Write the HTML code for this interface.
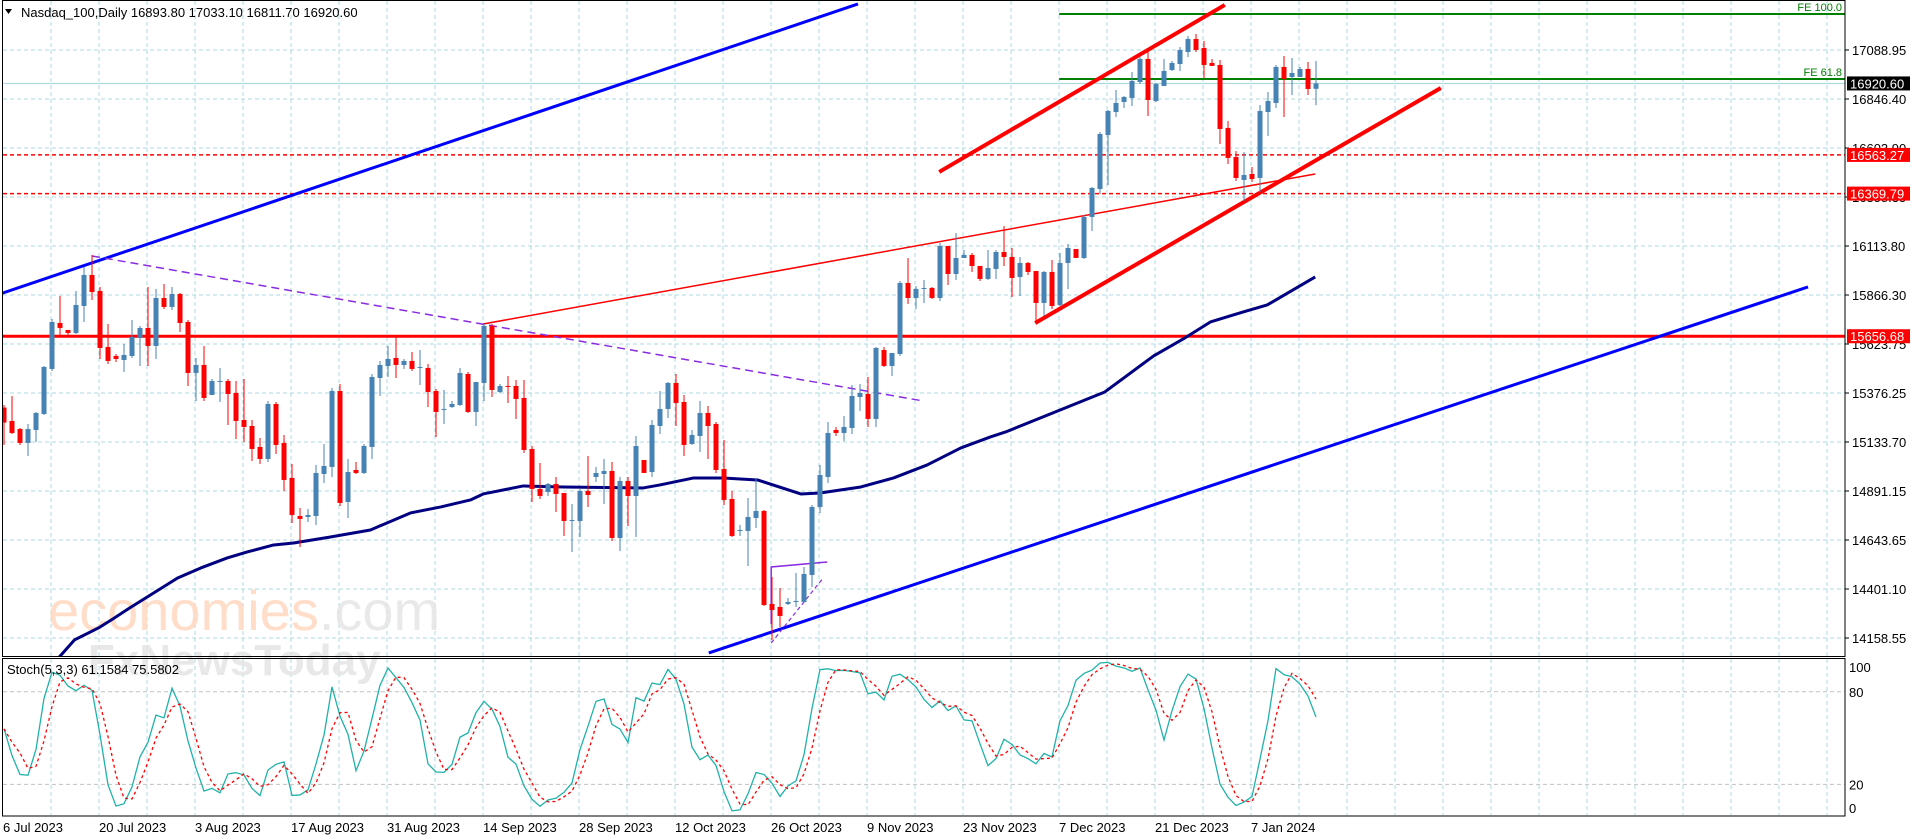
<!DOCTYPE html>
<html><head><meta charset="utf-8"><title>Nasdaq_100 Daily</title>
<style>
html,body{margin:0;padding:0;background:#fff;}
svg{display:block;font-family:"Liberation Sans","DejaVu Sans",sans-serif;}
</style></head>
<body>
<svg id="chart" width="1916" height="840" viewBox="0 0 1916 840" xmlns="http://www.w3.org/2000/svg">
<defs>
<clipPath id="mainClip"><rect x="3" y="1" width="1842" height="655"/></clipPath>
<clipPath id="stochClip"><rect x="3" y="659" width="1842" height="156"/></clipPath>
</defs>
<rect x="0" y="0" width="1916" height="840" fill="#fff"/>
<g id="grid"></g>
<g opacity="0.85">
<text x="48" y="630" font-size="56" fill="#ffd8c0">economies<tspan fill="#e6e6e6">.com</tspan></text>
<text x="88" y="675" font-size="44" fill="#e4e4e4" font-weight="bold">FxNewsToday</text>
</g>
<g id="main" clip-path="url(#mainClip)"></g>
<g id="stoch" clip-path="url(#stochClip)"></g>
<rect x="2.5" y="0.5" width="1842.5" height="656" fill="none" stroke="#000"/>
<rect x="2.5" y="658.5" width="1842.5" height="157.5" fill="none" stroke="#000"/>
<g id="axes"></g>
<polygon points="5,9 12,9 8.5,14" fill="#000"/>
<text x="21" y="17" font-size="13" fill="#000">Nasdaq_100,Daily  16893.80 17033.10 16811.70 16920.60</text>
<text x="7" y="674" font-size="13" fill="#000">Stoch(5,3,3) 61.1584 75.5802</text>
</svg>
<script>
const opens=[15300,15233,15193,15123,15188,15268,15493,15723,15688,15673,
15808,15963,15883,15603,15558,15538,15558,15648,15698,15608,
15848,15803,15868,15728,15473,15513,15363,15428,15433,15373,
15238,15208,15103,15043,15318,15123,14948,14758,14753,14758,
14968,15003,15383,14828,14988,14973,15103,15448,15508,15548,
15513,15533,15498,15498,15383,15288,15303,15313,15468,15278,
15423,15708,15378,15408,15408,15348,15093,14893,14878,14918,
14873,14733,14733,14883,14953,14968,14983,14648,14933,14858,
15038,14978,15208,15293,15423,15328,15118,15158,15273,15218,
14993,14843,14683,14683,14748,14783,14318,14303,14318,14328,
14328,14463,14803,14953,15188,15173,15198,15353,15368,15243,
15588,15508,15568,15923,15848,15893,15898,15848,16108,15968,
16048,16063,16008,15943,15993,16078,16053,15953,16023,15983,
15823,15978,15813,16023,16093,16048,16253,16393,16663,16778,
16828,16848,16928,17043,16833,16908,16988,17018,17078,17143,
17098,17023,17013,16698,16553,16438,16468,16448,16778,16823,
17003,16953,16953,16993,16893.8];
const highs=[15313,15358,15198,15218,15278,15508,15743,15858,15688,15883,
16003,16063,15903,15718,15568,15618,15738,15708,15903,15893,
15918,15903,15873,15738,15548,15608,15443,15498,15443,15433,
15443,15238,15148,15333,15328,15163,15018,14798,14793,15013,
15118,15398,15418,15043,15028,15118,15468,15533,15608,15658,
15543,15578,15588,15518,15393,15388,15333,15498,15478,15428,
15718,15718,15418,15458,15438,15438,15108,15023,14923,14953,
14873,14818,14893,15058,15003,15043,15028,14953,14953,15158,
15038,15238,15383,15428,15468,15363,15188,15333,15308,15228,
15138,14883,14713,14848,14948,14788,14453,14398,14348,14473,
14503,14813,15013,15228,15203,15258,15413,15418,15453,15603,
15603,15573,15933,16048,15908,15938,15903,16123,16108,16173,
16088,16073,16008,16088,16088,16208,16098,16053,16028,15983,
15983,16038,16073,16118,16093,16263,16403,16678,16788,16888,
16858,16978,17053,17078,16923,17043,17033,17103,17158,17168,
17133,17043,17038,16733,16583,16578,16503,16813,16878,17013,
17058,17048,17003,17028,17033.1];
const lows=[15113,15168,15113,15058,15128,15263,15483,15658,15663,15668,
15728,15838,15543,15518,15528,15478,15548,15508,15508,15543,
15793,15788,15678,15408,15333,15333,15363,15328,15213,15143,
15128,15033,15018,15028,15068,14883,14723,14603,14728,14713,
14923,14953,14808,14748,14968,14968,15043,15358,15453,15448,
15493,15483,15413,15303,15153,15218,15298,15308,15273,15208,
15333,15353,15373,15323,15243,15073,14828,14843,14858,14778,
14658,14578,14653,14803,14928,14818,14633,14583,14708,14653,
14973,14953,15168,15248,15208,15058,15113,15078,15043,14973,
14813,14653,14658,14508,14698,14308,14138,14203,14313,14303,
14328,14403,14773,14923,15158,15133,15168,15283,15203,15203,
15503,15458,15558,15818,15793,15823,15843,15833,15913,15938,
16048,15978,15933,15938,15943,16008,15853,15858,15963,15718,
15758,15793,15808,15893,16048,16043,16183,16368,16413,16753,
16798,16808,16918,16758,16828,16908,16983,16983,17053,17078,
16948,17008,16618,16518,16433,16333,16428,16378,16658,16798,
16753,16863,16953,16863,16811.7];
const closes=[15225,15173,15123,15193,15273,15503,15728,15698,15673,15813,
15963,15878,15598,15533,15543,15563,15653,15698,15608,15848,
15803,15868,15723,15473,15513,15348,15433,15433,15368,15233,
15203,15093,15043,15318,15113,14938,14763,14743,14763,14973,
15008,15383,14823,14978,14973,15108,15453,15513,15543,15513,
15533,15493,15503,15378,15278,15293,15318,15473,15278,15428,
15708,15388,15408,15403,15343,15088,14893,14858,14918,14868,
14733,14738,14883,14863,14973,14983,14648,14933,14858,15108,
14973,15213,15293,15423,15323,15113,15163,15273,15208,14988,
14838,14658,14688,14753,14783,14313,14288,14258,14328,14333,
14468,14803,14963,15173,15173,15203,15358,15373,15243,15598,
15508,15573,15923,15848,15893,15898,15848,16108,15968,16048,
16063,16008,15943,15998,16078,16053,15948,16023,15978,15823,
15978,15808,16023,16098,16048,16253,16398,16668,16783,16823,
16853,16933,17043,16838,16918,16983,17023,17088,17143,17088,
17013,17008,16693,16548,16448,16463,16443,16783,16833,17003,
16943,16973,16993,16893,16920.6];
// 100-period moving average: candle index -> value
const maIdx=[5.7,8.8,11.8,13.6,15.7,18.7,21.7,24.6,27.9,30.4,33.7,36.2,40.8,45.8,50.8,54.6,58.3,59.9,64.9,69.9,79.9,82,86.2,89.9,94.2,99.6,102,107.1,111.2,115.4,119.6,123.3,125.2,137.6,143.7,147.4,150.8,154.9,157.9,163.9];
const maVal=[13998,14138,14198,14243,14298,14373,14448,14498,14548,14578,14613,14623,14653,14688,14773,14803,14838,14868,14908,14903,14898,14913,14948,14948,14938,14868,14873,14903,14948,15013,15098,15153,15178,15378,15558,15643,15728,15778,15813,15953];
const priceTicks=["17088.95","16846.40","16603.90","16358.35","16113.80","15866.30","15623.75","15376.25","15133.70","14891.15","14643.65","14401.10","14158.55"];
const dateLabels=["6 Jul 2023","20 Jul 2023","3 Aug 2023","17 Aug 2023","31 Aug 2023","14 Sep 2023","28 Sep 2023","12 Oct 2023","26 Oct 2023","9 Nov 2023","23 Nov 2023","7 Dec 2023","21 Dec 2023","7 Jan 2024"];
const stochLevels=[100,80,20,0];
const hLevels=[15656.68,16563.27,16369.79];
const feLevels=[17268,16943];
const feNames=["FE 100.0","FE 61.8"];
const lastPrice=16920.60;

const NS="http://www.w3.org/2000/svg";
function X(i){return 4+8*i;}
function Y(p){return 294.3-(p-15866.3)/5;}
function SY(v){return 815.2-1.543*v;}
function P(y){return 15866.3-(y-294.3)*5;}
function mk(tag,attrs,parent){const e=document.createElementNS(NS,tag);for(const k in attrs)e.setAttribute(k,attrs[k]);parent.appendChild(e);return e;}
const grid=document.getElementById('grid'),main=document.getElementById('main'),st=document.getElementById('stoch'),axes=document.getElementById('axes');

// grid
for(let k=0;k<13;k++){const y=50+49*k;
 const l=mk('line',{x1:3,x2:1845,y1:y,y2:y,stroke:'#acd8e0','stroke-dasharray':'4,3'},grid);
 
 
 const t=mk('line',{x1:1845,x2:1849,y1:y,y2:y,stroke:'#000'},axes);
 
 
 const tx=mk('text',{x:1852,y:y+5,'font-size':13,fill:'#000'},axes);tx.textContent=priceTicks[k];
 
 
}
for(let k=1;k<=38;k++){const x=3+48*k;
 const a=mk('line',{x1:x,x2:x,y1:1,y2:656,stroke:'#acd8e0','stroke-dasharray':'4,3'},grid);
 
 
 const b=mk('line',{x1:x,x2:x,y1:659,y2:815,stroke:'#acd8e0','stroke-dasharray':'4,3'},grid);
 
 
}
for(let k=0;k<dateLabels.length;k++){
 const tx=mk('text',{x:3+96*k,y:832,'font-size':13,fill:'#000'},axes);tx.textContent=dateLabels[k];
 
 
}
stochLevels.forEach(v=>{
 if(v===80||v===20){const l=mk('line',{x1:3,x2:1845,y1:SY(v),y2:SY(v),stroke:'#c0c0c0','stroke-dasharray':'4,3'},grid);
  
  }
 const tx=mk('text',{x:1849,y:Math.min(Math.max(SY(v),667),808)+5,'font-size':13,fill:'#000'},axes);tx.textContent=String(v);
 
 
});

// horizontal levels
[[hLevels[0],'none',3],[hLevels[1],'4,3',1.5],[hLevels[2],'4,3',1.5]].forEach(([p,d,w])=>{
 const l=mk('line',{x1:3,x2:1845,y1:Y(p),y2:Y(p),stroke:'#ff0000','stroke-width':w,'stroke-dasharray':d},main);
 
 
});
const cp=mk('line',{x1:3,x2:1845,y1:Y(lastPrice),y2:Y(lastPrice),stroke:'#b0d8e0','stroke-width':1.2},main);


feLevels.forEach((p,k)=>{
 const l=mk('line',{x1:X(131.9),x2:1845,y1:Y(p),y2:Y(p),stroke:'#008000','stroke-width':2},main);
 
 
 const t=mk('text',{x:1842,y:Y(p)-3,'font-size':11,fill:'#008000','text-anchor':'end'},main);t.textContent=feNames[k];
 
 
});

// trend lines (index, price)
const trendLines=[
 {n:'blue-channel-upper',a:[-0.5,15868],b:[106.75,17318],c:'#0000ff',w:3,d:'none'},
 {n:'blue-channel-lower',a:[88.1,14073],b:[225.5,15903],c:'#0000ff',w:3,d:'none'},
 {n:'red-trendline-thin',a:[59.9,15718],b:[163.9,16468],c:'#ff0000',w:1.5,d:'none'},
 {n:'purple-dashed-trendline',a:[11,16058],b:[114.9,15333],c:'#8a2be2',w:1.5,d:'8,5'},
 {n:'red-channel-upper',a:[116.9,16478],b:[152.6,17313],c:'#ff0000',w:4,d:'none'},
 {n:'red-channel-lower',a:[128.9,15723],b:[179.6,16898],c:'#ff0000',w:4,d:'none'}
];
trendLines.forEach(t=>{
 const l=mk('line',{x1:X(t.a[0]),y1:Y(t.a[1]),x2:X(t.b[0]),y2:Y(t.b[1]),stroke:t.c,'stroke-width':t.w,'stroke-dasharray':t.d},main);
 
 
});
// small purple pattern near October low
const pp=mk('polyline',{points:`${X(95.9)},${Y(14218)} ${X(95.9)},${Y(14503)} ${X(102.9)},${Y(14528)}`,fill:'none',stroke:'#8a2be2','stroke-width':1.5},main);


const pd=mk('line',{x1:X(95.9),y1:Y(14123),x2:X(102.4),y2:Y(14448),stroke:'#8a2be2','stroke-width':1.2,'stroke-dasharray':'4,3'},main);



// moving average
let maPts=maIdx.map((i,k)=>X(i)+','+Y(maVal[k])).join(' ');
const ma=mk('polyline',{points:maPts,fill:'none',stroke:'#000080','stroke-width':3,'stroke-linejoin':'round'},main);



// candles
for(let i=0;i<closes.length;i++){
 const bull=closes[i]>=opens[i];const col=bull?'#4682b4':'#ff0000';
 const g=mk('g',{},main);
 
 
 const x=X(i);
 const w=mk('line',{x1:x,x2:x,y1:Y(highs[i]),y2:Y(lows[i]),stroke:col,'stroke-width':1},g);
 
 
 const top=Y(Math.max(opens[i],closes[i])),bot=Y(Math.min(opens[i],closes[i]));
 const b=mk('rect',{x:x-2.5,y:top,width:5,height:Math.max(1,bot-top),fill:col},g);
 
 
}

// stochastic (5,3,3) computed from OHLC
const kP=5,slow=3,dP=3;const num=[],den=[],kMain=[],dSig=[];
for(let i=0;i<closes.length;i++){
 const s=Math.max(0,i-kP+1);let hh=-Infinity,ll=Infinity;
 for(let j=s;j<=i;j++){hh=Math.max(hh,highs[j]);ll=Math.min(ll,lows[j]);}
 num.push(closes[i]-ll);den.push(hh-ll);
 let sn=0,sd=0;for(let j=Math.max(0,i-slow+1);j<=i;j++){sn+=num[j];sd+=den[j];}
 kMain.push(sd>0?100*sn/sd:50);
 let sm=0,c=0;for(let j=Math.max(0,i-dP+1);j<=i;j++){sm+=kMain[j];c++;}
 dSig.push(sm/c);
}
const kl=mk('polyline',{points:kMain.map((v,i)=>X(i)+','+SY(v)).join(' '),fill:'none',stroke:'#20b2aa','stroke-width':1.3},st);


const dl=mk('polyline',{points:dSig.map((v,i)=>X(i)+','+SY(v)).join(' '),fill:'none',stroke:'#ff0000','stroke-width':1.3,'stroke-dasharray':'3,3'},st);



// price labels
function tag(p,bg,name){
 const y=Y(p);
 const r=mk('rect',{x:1847,y:y-7,width:63,height:14,fill:bg},axes);
 
 
 const t=mk('text',{x:1850,y:y+5,'font-size':13,fill:'#fff'},axes);t.textContent=p.toFixed(2);
 
 
}
tag(lastPrice,'#000','current-price-label');
hLevels.forEach(p=>tag(p,'#ff0000','level-price-label'));
</script>
</body></html>
